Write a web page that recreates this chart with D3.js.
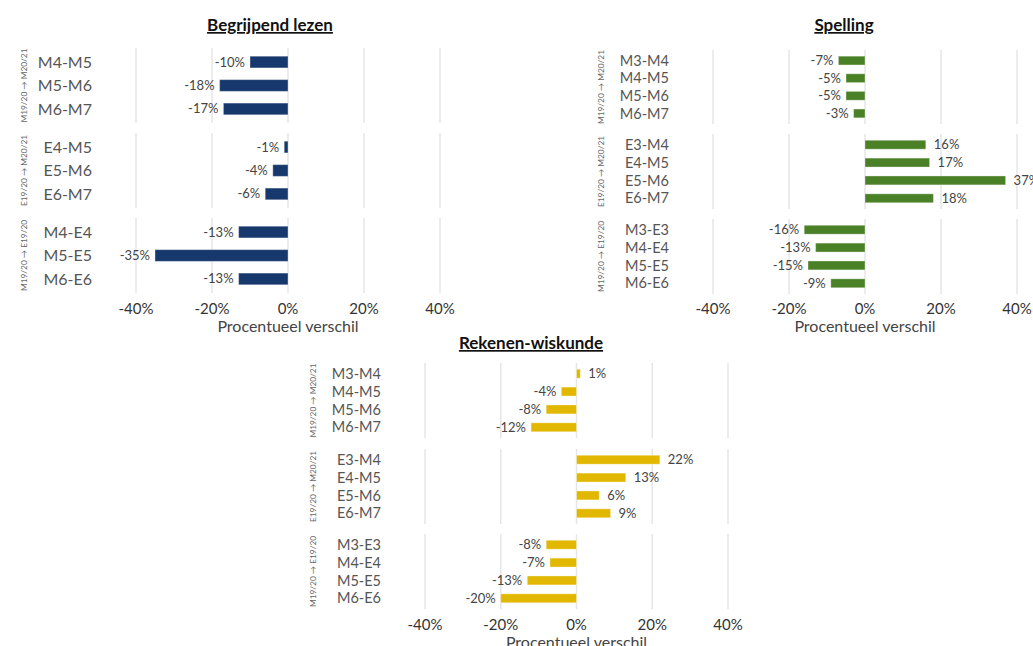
<!DOCTYPE html>
<html><head><meta charset="utf-8">
<script src="https://cdn.jsdelivr.net/npm/d3@7"></script>
<style>
body{margin:0;background:#fff;}
svg{display:block;font-family:Lato,"Open Sans",sans-serif;}
</style></head>
<body><svg id="c" width="1033" height="646"></svg>
<script>
const groups = ["M19/20 → M20/21", "E19/20 → M20/21", "M19/20 → E19/20"];
const ticks = [-40, -20, 0, 20, 40];

const lezenCats = [["M4-M5","M5-M6","M6-M7"],["E4-M5","E5-M6","E6-M7"],["M4-E4","M5-E5","M6-E6"]];
const lezenVals = [[-10,-18,-17],[-1,-4,-6],[-13,-35,-13]];

const spellingCats = [["M3-M4","M4-M5","M5-M6","M6-M7"],["E3-M4","E4-M5","E5-M6","E6-M7"],["M3-E3","M4-E4","M5-E5","M6-E6"]];
const spellingVals = [[-7,-5,-5,-3],[16,17,37,18],[-16,-13,-15,-9]];

const rekenenCats = [["M3-M4","M4-M5","M5-M6","M6-M7"],["E3-M4","E4-M5","E5-M6","E6-M7"],["M3-E3","M4-E4","M5-E5","M6-E6"]];
const rekenenVals = [[1,-4,-8,-12],[22,13,6,9],[-8,-7,-13,-20]];

const panels = [
  {title:"Begrijpend lezen", cats:lezenCats, vals:lezenVals, color:"#17386c", x0:136, x1:440, titleX:270, titleY:31,
   bands:[[48,123],[133,208],[218,293]], tickY:314, axTitleY:332, catSize:16},
  {title:"Spelling", cats:spellingCats, vals:spellingVals, color:"#4a8026", x0:713, x1:1017, titleX:844, titleY:31,
   bands:[[50,124],[134,209],[219,294]], tickY:314, axTitleY:332, catSize:14.5},
  {title:"Rekenen-wiskunde", cats:rekenenCats, vals:rekenenVals, color:"#e2b700", x0:425, x1:728, titleX:531, titleY:349,
   bands:[[363,438],[449,524],[534,609]], tickY:630, axTitleY:648, catSize:14.5}
];

const svg = d3.select("#c");

panels.forEach(p => {
  const g = svg.append("g");
  const x = d3.scaleLinear().domain([-40,40]).range([p.x0,p.x1]);

  g.append("text").attr("x",p.titleX).attr("y",p.titleY).attr("text-anchor","middle")
    .attr("font-size",17).attr("font-weight","bold").attr("fill","#111")
    .attr("text-decoration","underline").text(p.title);

  p.cats.forEach((cats, gi) => {
    const [t,b] = p.bands[gi];
    const y = d3.scalePoint().domain(cats).range([t,b]).padding(0.6);
    const bh = y.step()*0.5;
    g.selectAll(null).data(ticks).enter().append("line")
      .attr("x1",d=>x(d)).attr("x2",d=>x(d)).attr("y1",t).attr("y2",b)
      .attr("stroke","#e6e6e6").attr("stroke-width",1.5);
    g.append("text").attr("transform",`translate(${p.x0-109},${(t+b)/2}) rotate(-90)`)
      .attr("text-anchor","middle").attr("font-size",8.3).attr("fill","#666").text(groups[gi]);
    g.selectAll(null).data(cats).enter().append("text")
      .attr("x",p.x0-44).attr("y",d=>y(d)).attr("dy","0.35em").attr("text-anchor","end")
      .attr("font-size",p.catSize).attr("fill","#555").text(d=>d);
    const vals = p.vals[gi];
    const rows = cats.map((c,i)=>({c, v:vals[i]}));
    g.selectAll(null).data(rows).enter().append("rect")
      .attr("x",d=>x(Math.min(0,d.v))).attr("width",d=>Math.abs(x(d.v)-x(0)))
      .attr("y",d=>y(d.c)-bh/2).attr("height",bh).attr("fill",p.color)
      .attr("stroke","#fff").attr("stroke-opacity",0.35).attr("stroke-width",1);
    g.selectAll(null).data(rows).enter().append("text")
      .attr("x",d=>d.v<0 ? x(d.v)-5 : x(d.v)+8).attr("y",d=>y(d.c)).attr("dy","0.35em")
      .attr("text-anchor",d=>d.v<0?"end":"start").attr("font-size",13).attr("fill","#444")
      .text(d=>d.v+"%");
  });

  g.selectAll(null).data(ticks).enter().append("text")
    .attr("x",d=>x(d)).attr("y",p.tickY).attr("text-anchor","middle")
    .attr("font-size",15).attr("fill","#333").text(d=>d+"%");
  g.append("text").attr("x",x(0)).attr("y",p.axTitleY).attr("text-anchor","middle")
    .attr("font-size",16).attr("fill","#444").text("Procentueel verschil");
});
</script></body></html>
